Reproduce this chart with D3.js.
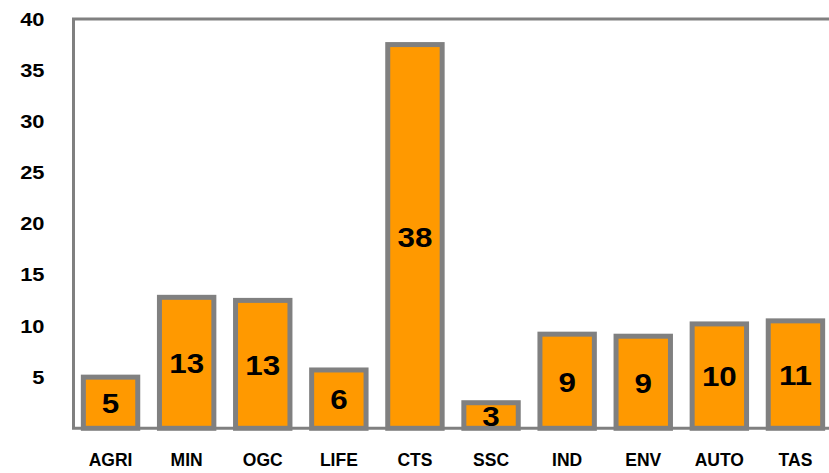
<!DOCTYPE html>
<html>
<head>
<meta charset="utf-8">
<script src="https://cdn.jsdelivr.net/npm/d3@7"></script>
<style>
  body { margin: 0; background: #fff; }
  text { font-family: "Liberation Sans", Arial, sans-serif; font-weight: bold; fill: #000; }
</style>
</head>
<body>
<svg id="chart" width="829" height="473"></svg>
<script>
const categories = ["AGRI", "MIN", "OGC", "LIFE", "CTS", "SSC", "IND", "ENV", "AUTO", "TAS"];
const values = [5, 12.8, 12.5, 5.7, 37.5, 2.5, 9.2, 9.0, 10.2, 10.5];
const yTicks = [5, 10, 15, 20, 25, 30, 35, 40];

const svg = d3.select("#chart");

const x = d3.scaleBand()
  .domain(categories)
  .range([72.5, 833.5])
  .paddingInner(0.285)
  .paddingOuter(0.1425);

const y = d3.scaleLinear()
  .domain([0, 40])
  .range([428.3, 19]);

// bars
svg.append("g")
  .selectAll("rect")
  .data(values)
  .join("rect")
  .attr("x", (d, i) => x(categories[i]))
  .attr("y", d => y(d))
  .attr("width", x.bandwidth())
  .attr("height", d => y(0) - y(d))
  .attr("fill", "#ff9900")
  .attr("stroke", "#808080")
  .attr("stroke-width", 5);

// value labels (numbers in the original are a bit wide, so stretch them)
svg.append("g")
  .selectAll("text")
  .data(values)
  .join("text")
  .attr("transform", (d, i) =>
    `translate(${x(categories[i]) + x.bandwidth() / 2},${(y(d) + y(0)) / 2}) scale(1.1,1)`)
  .attr("text-anchor", "middle")
  .attr("dy", "0.36em")
  .style("font-size", "28.5px")
  .text(d => Math.round(d));

// y axis
const yAxis = svg.append("g")
  .attr("transform", "translate(73.5,0)")
  .call(d3.axisLeft(y).tickValues(yTicks).tickSize(0).tickPadding(28));
yAxis.select(".domain").attr("stroke", "#808080").attr("stroke-width", 3)
  .attr("d", `M0,${y(0)}V${y(40)}`);
yAxis.selectAll("text")
  .attr("x", 0)
  .attr("transform", "translate(-29,0) scale(1.15,1)")
  .style("font-size", "19px");

// top border
svg.append("line")
  .attr("x1", 72).attr("x2", 829)
  .attr("y1", y(40)).attr("y2", y(40))
  .attr("stroke", "#808080").attr("stroke-width", 3);

// x axis
const xAxis = svg.append("g")
  .attr("transform", `translate(0,${y(0)})`)
  .call(d3.axisBottom(x).tickSize(0).tickPadding(25));
xAxis.select(".domain").attr("stroke", "#808080").attr("stroke-width", 3)
  .attr("d", "M72,0H829");
xAxis.selectAll("text").style("font-size", "17.5px");
</script>
</body>
</html>
